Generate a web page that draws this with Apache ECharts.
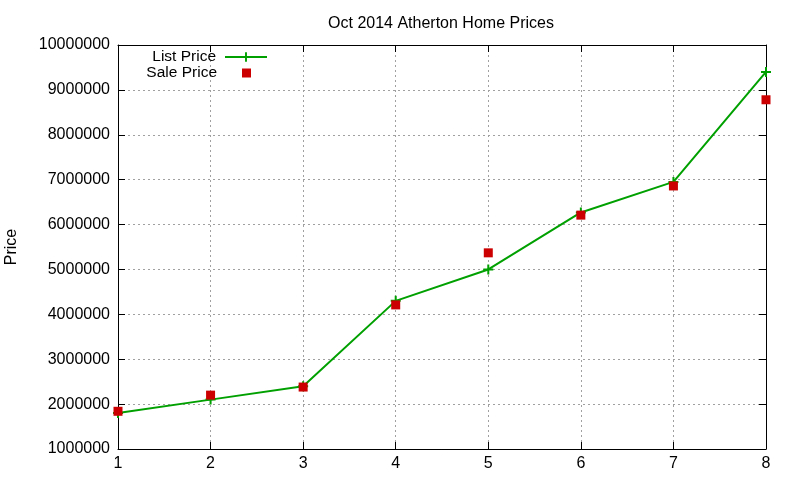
<!DOCTYPE html>
<html>
<head>
<meta charset="utf-8">
<script src="https://cdn.jsdelivr.net/npm/echarts@6/dist/echarts.min.js"></script>
<style>html,body{margin:0;padding:0;background:#fff}#c{width:800px;height:480px}</style>
</head>
<body>
<div id="c"></div>
<script>
const months = [1, 2, 3, 4, 5, 6, 7, 8];
const listPrice = [1800000, 2100000, 2400000, 4300000, 5000000, 6270000, 6950000, 9400000];
const salePrice = [1840000, 2200000, 2380000, 4210000, 5370000, 6210000, 6860000, 8780000];
const yTicks = [1000000, 2000000, 3000000, 4000000, 5000000, 6000000, 7000000, 8000000, 9000000, 10000000];

const FONT = 'Liberation Sans, Arial, sans-serif';
const chart = echarts.init(document.getElementById('c'), null, {renderer: 'canvas'});
const plus = 'path://M4,0 H6 V4 H10 V6 H6 V10 H4 V6 H0 V4 H4 Z';
const gridLine = {show: true, lineStyle: {color: '#a0a0a0', type: [2, 3], width: 1}};
const axisLine = {show: true, onZero: false, lineStyle: {color: '#000', width: 1}};
const tickIn = {show: true, inside: true, length: 7, lineStyle: {color: '#000'}};

chart.setOption({
  animation: false,
  backgroundColor: '#fff',
  title: {
    text: 'Oct 2014 Atherton Home Prices',
    left: 436, top: 11, textAlign: 'center',
    textStyle: {fontFamily: FONT, fontSize: 16, fontWeight: 'normal', color: '#000'}
  },
  legend: [
    {
      data: ['List Price'], orient: 'vertical', align: 'right',
      right: 527, top: 44, itemWidth: 42, itemHeight: 12,
      textStyle: {fontFamily: FONT, fontSize: 15.5, color: '#000', padding: [0, 4, 0, 0]}
    },
    {
      data: ['Sale Price'], orient: 'vertical', align: 'right',
      right: 544, top: 60, itemWidth: 9, itemHeight: 9, icon: 'rect',
      itemStyle: {opacity: 1},
      textStyle: {fontFamily: FONT, fontSize: 15.5, color: '#000', padding: [0, 20, 0, 0]}
    }
  ],
  grid: {left: 118, right: 34, top: 45, bottom: 31, containLabel: false, outerBoundsMode: 'none'},
  xAxis: [
    {
      type: 'value', min: 1, max: 8, interval: 1, position: 'bottom',
      axisLine: axisLine, axisTick: tickIn, splitLine: gridLine,
      axisLabel: {fontFamily: FONT, fontSize: 16, color: '#000', margin: 7}
    },
    {
      type: 'value', min: 1, max: 8, interval: 1, position: 'top',
      axisLine: axisLine, axisTick: tickIn, splitLine: {show: false},
      axisLabel: {show: false}
    }
  ],
  yAxis: [
    {
      type: 'value', min: yTicks[0], max: yTicks[yTicks.length - 1], interval: 1000000,
      name: 'Price', nameLocation: 'middle', nameGap: 98, nameRotate: 90,
      nameTextStyle: {fontFamily: FONT, fontSize: 16, color: '#000'},
      axisLine: axisLine, axisTick: tickIn, splitLine: gridLine,
      axisLabel: {fontFamily: FONT, fontSize: 16, color: '#000', margin: 8,
        formatter: v => String(v)}
    },
    {
      type: 'value', min: yTicks[0], max: yTicks[yTicks.length - 1], interval: 1000000,
      position: 'right',
      axisLine: axisLine, axisTick: tickIn, splitLine: {show: false},
      axisLabel: {show: false}
    }
  ],
  series: [
    {
      name: 'List Price', type: 'line',
      data: months.map((m, i) => [m, listPrice[i]]),
      lineStyle: {color: '#00a000', width: 2},
      itemStyle: {color: '#00a000'},
      symbol: plus, symbolSize: 10, showSymbol: true,
      z: 3
    },
    {
      name: 'Sale Price', type: 'scatter',
      data: months.map((m, i) => [m, salePrice[i]]),
      itemStyle: {color: '#cc0000', opacity: 1},
      symbol: 'rect', symbolSize: 9,
      z: 4
    }
  ]
});
</script>
</body>
</html>
